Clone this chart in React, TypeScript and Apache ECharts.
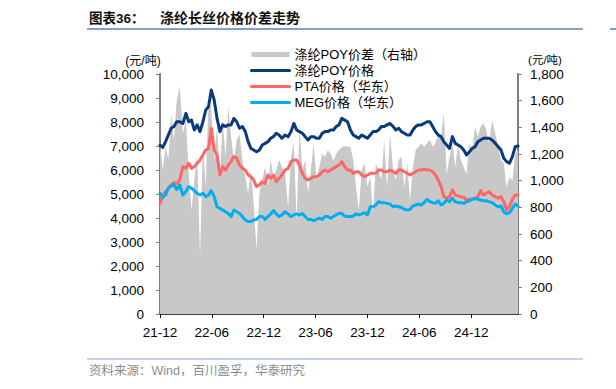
import React, { useEffect, useRef } from 'react';
import * as echarts from 'echarts';

// ten-day observations starting 2021-12-01
const START_UTC = Date.UTC(2021, 11, 1);
const STEP_DAYS = 10;

const xTickLabels = ['21-12', '22-06', '22-12', '23-06', '23-12', '24-06', '24-12'];

const poyPrice = [
  7040, 6940, 7180, 7460, 7740, 7810, 8010, 8010, 7940, 8360,
  8010, 8080, 7670, 7880, 7600, 8010, 8500, 8640, 9330, 8920,
  8150, 7600, 7880, 7810, 7880, 7880, 8150, 8010, 7740, 7810,
  7600, 7180, 6900, 6830, 6760, 6830, 7040, 7110, 7180, 7320,
  7390, 7530, 7460, 7320, 7460, 7390, 7600, 7940, 7670, 7600,
  7530, 7390, 7250, 7390, 7390, 7320, 7320, 7530, 7600, 7600,
  7670, 7670, 7810, 7880, 8150, 8080, 8010, 7670, 7460, 7390,
  7320, 7460, 7390, 7320, 7460, 7600, 7600, 7670, 7810, 7810,
  7880, 7940, 7810, 7670, 7740, 7600, 7530, 7460, 7460, 7670,
  7810, 7880, 7880, 7940, 8010, 8010, 7810, 7600, 7460, 7390,
  7180, 7040, 6900, 7390, 7110, 7040, 6970, 6830, 6630, 6760,
  6900, 6970, 7180, 7250, 7320, 7320, 7320, 7250, 7110, 6970,
  6830, 6490, 6350, 6280, 6560, 6970, 7000,
];

const ptaPrice = [
  4610, 4960, 5100, 5240, 5380, 5470, 5440, 5580, 6140, 6070,
  6280, 6070, 6140, 6280, 6420, 6630, 6830, 6900, 7740, 6830,
  6630, 5790, 6140, 6000, 6210, 6350, 6560, 6490, 6210, 6070,
  6000, 5790, 5720, 5580, 5310, 5380, 5510, 5440, 5790, 5650,
  5790, 5510, 5650, 5790, 6000, 6070, 6350, 6420, 6420, 6210,
  5860, 5650, 5580, 5650, 5720, 5720, 5790, 5930, 6000, 5930,
  6000, 6070, 6140, 6210, 6350, 6140, 6000, 6000, 5860, 5930,
  5930, 5790, 5720, 5790, 5860, 5860, 5860, 6000, 6000, 5930,
  5930, 6000, 5930, 5860, 6000, 6000, 5930, 5860, 5790, 5860,
  5930, 6000, 6000, 6030, 6000, 6000, 5930, 5790, 5580, 5310,
  4890, 4820, 4890, 5170, 4960, 4920, 4890, 4860, 4750, 4780,
  4780, 4820, 4890, 5140, 4960, 5030, 5100, 4960, 4890, 4820,
  4890, 4680, 4330, 4470, 4780, 4960, 4960,
];

const megPrice = [
  5030, 4860, 4960, 5240, 5330, 5380, 5190, 5380, 4960, 5100,
  5310, 5240, 5140, 5030, 4960, 5030, 4890, 4960, 5140, 4890,
  4470, 4400, 4330, 4260, 4190, 4060, 4330, 4260, 4190, 4060,
  3920, 3850, 3850, 3920, 3940, 4060, 4060, 3940, 4060, 4170,
  4310, 4170, 4060, 4130, 4260, 4170, 4060, 4130, 4170, 4130,
  4190, 4060, 3940, 3940, 3890, 3940, 3990, 3940, 4060, 4060,
  3990, 4060, 4130, 4190, 4190, 4080, 4060, 4060, 4080, 4170,
  4130, 4170, 4220, 4130, 4470, 4470, 4540, 4680, 4640, 4640,
  4610, 4580, 4470, 4500, 4470, 4440, 4360, 4330, 4360, 4500,
  4540, 4580, 4540, 4640, 4780, 4680, 4640, 4610, 4720, 4540,
  4610, 4750, 4680, 4820, 4680, 4640, 4640, 4610, 4680, 4720,
  4780, 4810, 4780, 4750, 4720, 4720, 4680, 4640, 4540, 4470,
  4500, 4260, 4170, 4220, 4400, 4580, 4500,
];

const poySpread = [
  1280, 1080, 1255, 1155, 1500, 1305, 1605, 1705, 1355, 1455,
  1055, 780, 1000, 1205, 430, 1280, 955, 1605, 1530, 1155,
  1405, 1000, 1455, 1180, 1555, 1330, 1155, 1305, 1350, 1155,
  1030, 905, 1080, 830, 480, 905, 1005, 1105, 955, 1155,
  1030, 1080, 1155, 1105, 1055, 800, 1180, 1280, 700, 1405,
  1080, 1155, 905, 1080, 1280, 1005, 1105, 1200, 1180, 1230,
  1200, 1150, 1200, 1230, 1250, 1260, 1255, 1255, 1155, 955,
  780, 1080, 1130, 955, 1030, 760, 1130, 1080, 1005, 1300,
  955, 1355, 1080, 1005, 1155, 1180, 950, 1130, 850, 1105,
  1230, 1255, 1280, 1255, 1280, 1305, 1255, 1280, 1355, 1330,
  1505, 1050, 1180, 1280, 1105, 1280, 1155, 1105, 1050, 1280,
  1230, 1405, 1330, 1405, 1430, 1380, 1280, 1455, 1355, 1255,
  1155, 1130, 950, 1030, 1000, 1200, 1230,
];

const FONT = "'Liberation Sans', Arial, 'Noto Sans CJK SC', sans-serif";

function monthOffset(d: Date): number {
  const y = d.getUTCFullYear();
  const m = d.getUTCMonth();
  const day = d.getUTCDate();
  const dim = new Date(Date.UTC(y, m + 1, 0)).getUTCDate();
  return (y - 2021) * 12 + (m - 11) + (day - 1) / dim;
}

const dates = poyPrice.map((_, i) => new Date(START_UTC + i * STEP_DAYS * 86400000));
const xs = dates.map(monthOffset);
const pair = (arr: number[]) => arr.map((v, i) => [xs[i], v]);

const hiddenSymbol = { color: 'rgba(0,0,0,0)', opacity: 0, borderWidth: 0 };

export default function App() {
  const ref = useRef<HTMLDivElement>(null);
  useEffect(() => {
    if (!ref.current) return;
    const chart = echarts.init(ref.current, undefined, { renderer: 'svg' });
    const axisGray = '#7f7f7f';
    chart.setOption({
      animation: false,
      backgroundColor: '#ffffff',
      grid: { left: 160, right: 98, top: 74, bottom: 75, containLabel: false },
      legend: {
        orient: 'vertical',
        left: 245,
        top: 43,
        itemWidth: 38,
        itemHeight: 5,
        itemGap: 3,
        textStyle: { fontSize: 13, color: '#000', fontFamily: FONT },
        data: [
          { name: '涤纶POY价差（右轴）', icon: 'rect' },
          { name: '涤纶POY价格', itemStyle: hiddenSymbol, lineStyle: { width: 3 } },
          { name: 'PTA价格（华东）', itemStyle: hiddenSymbol, lineStyle: { width: 3 } },
          { name: 'MEG价格（华东）', itemStyle: hiddenSymbol, lineStyle: { width: 3 } },
        ],
      },
      xAxis: {
        type: 'value',
        min: 0,
        max: xs[xs.length - 1],
        interval: 6,
        axisLine: { show: true, onZero: false, lineStyle: { color: '#000', width: 1.5 } },
        axisTick: { show: true, inside: false, length: 4, lineStyle: { color: '#000' } },
        splitLine: { show: false },
        axisLabel: {
          fontSize: 13.5,
          color: '#000',
          fontFamily: FONT,
          margin: 12,
          showMaxLabel: false,
          formatter: (v: number) => {
            const k = Math.round(v / 6);
            return Math.abs(v - k * 6) < 1e-6 && xTickLabels[k] ? xTickLabels[k] : '';
          },
        },
      },
      yAxis: [
        {
          type: 'value',
          min: 0,
          max: 10000,
          interval: 1000,
          axisLine: { show: true, lineStyle: { color: axisGray, width: 2 } },
          axisTick: { show: true, inside: false, length: 4, lineStyle: { color: axisGray } },
          splitLine: { show: false },
          axisLabel: {
            fontSize: 13.5,
            color: '#000',
            fontFamily: FONT,
            margin: 16,
            formatter: (v: number) => v.toLocaleString('en-US'),
          },
        },
        {
          type: 'value',
          min: 0,
          max: 1800,
          interval: 200,
          position: 'right',
          axisLine: { show: true, lineStyle: { color: axisGray, width: 2 } },
          axisTick: { show: true, inside: false, length: 4, lineStyle: { color: axisGray } },
          splitLine: { show: false },
          axisLabel: {
            fontSize: 13.5,
            color: '#000',
            fontFamily: FONT,
            margin: 12,
            formatter: (v: number) => v.toLocaleString('en-US'),
          },
        },
      ],
      series: [
        {
          name: '涤纶POY价差（右轴）',
          type: 'line',
          yAxisIndex: 1,
          data: pair(poySpread),
          symbol: 'none',
          lineStyle: { width: 0 },
          itemStyle: { color: '#c8c8c8' },
          areaStyle: { color: '#c8c8c8', opacity: 1 },
          z: 1,
        },
        {
          name: '涤纶POY价格',
          type: 'line',
          data: pair(poyPrice),
          symbol: 'none',
          itemStyle: { color: '#0a3a7e' },
          lineStyle: { color: '#0a3a7e', width: 3, join: 'round', cap: 'round' },
          z: 3,
        },
        {
          name: 'PTA价格（华东）',
          type: 'line',
          data: pair(ptaPrice),
          symbol: 'none',
          itemStyle: { color: '#ff6666' },
          lineStyle: { color: '#ff6666', width: 3, join: 'round', cap: 'round' },
          z: 3,
        },
        {
          name: 'MEG价格（华东）',
          type: 'line',
          data: pair(megPrice),
          symbol: 'none',
          itemStyle: { color: '#00aeef' },
          lineStyle: { color: '#00aeef', width: 3, join: 'round', cap: 'round' },
          z: 3,
        },
      ],
      graphic: [
        {
          type: 'text',
          x: 89,
          y: 18,
          style: {
            text: '图表36：',
            fontSize: 13.5,
            fontWeight: 'bold',
            fontFamily: FONT,
            fill: '#111',
            verticalAlign: 'middle',
            textVerticalAlign: 'middle',
          },
        },
        {
          type: 'text',
          x: 160,
          y: 18,
          style: {
            text: '涤纶长丝价格价差走势',
            fontSize: 14,
            fontWeight: 'bold',
            fontFamily: FONT,
            fill: '#111',
            verticalAlign: 'middle',
            textVerticalAlign: 'middle',
          },
        },
        {
          type: 'line',
          shape: { x1: 87, y1: 29, x2: 583, y2: 29 },
          style: { stroke: '#5b80b4', lineWidth: 1.5 },
        },
        {
          type: 'line',
          shape: { x1: 610, y1: 29, x2: 616, y2: 29 },
          style: { stroke: '#5b80b4', lineWidth: 1.5 },
        },
        {
          type: 'text',
          x: 143,
          y: 61,
          style: {
            text: '(元/吨)',
            fontSize: 12,
            fontFamily: FONT,
            fill: '#000',
            align: 'center',
            textAlign: 'center',
            verticalAlign: 'middle',
            textVerticalAlign: 'middle',
          },
        },
        {
          type: 'text',
          x: 545,
          y: 60,
          style: {
            text: '(元/吨)',
            fontSize: 11.5,
            fontFamily: FONT,
            fill: '#000',
            align: 'center',
            textAlign: 'center',
            verticalAlign: 'middle',
            textVerticalAlign: 'middle',
          },
        },
        {
          type: 'line',
          shape: { x1: 87, y1: 359, x2: 583, y2: 359 },
          style: { stroke: '#8da6c8', lineWidth: 1 },
        },
        {
          type: 'text',
          x: 89,
          y: 371,
          style: {
            text: '资料来源：Wind，百川盈孚，华泰研究',
            fontSize: 12.5,
            fontFamily: FONT,
            fill: '#8c8c8c',
            verticalAlign: 'middle',
            textVerticalAlign: 'middle',
          },
        },
      ],
    });
    return () => chart.dispose();
  }, []);
  return (
    <div
      ref={ref}
      style={{ position: 'fixed', left: 0, top: 0, width: 616, height: 389, background: '#fff' }}
    />
  );
}
